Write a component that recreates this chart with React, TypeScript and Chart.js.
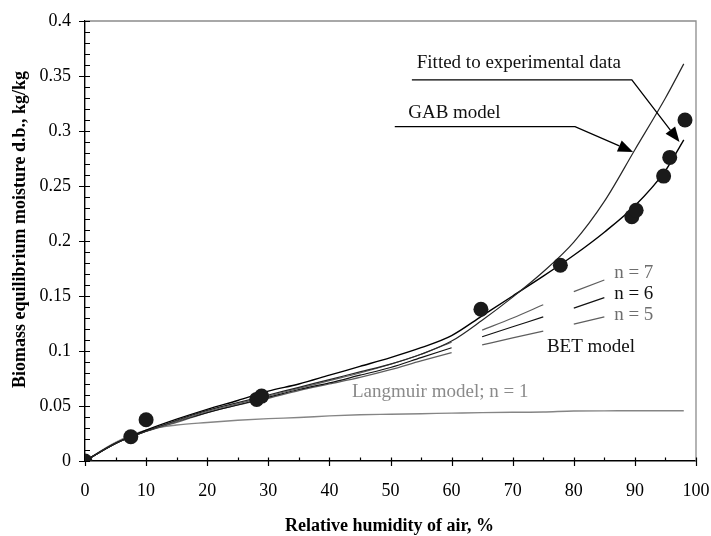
import { useEffect, useRef } from 'react';
import { Chart, registerables } from 'chart.js';

Chart.register(...registerables);

const SERIF = '"Liberation Serif", "Times New Roman", Times, serif';

// Measured equilibrium points: relative humidity (%) and moisture (kg/kg d.b.)
const expRH = [0, 7.5, 10, 28.1, 28.9, 64.8, 77.8, 89.5, 90.2, 94.7, 95.7, 98.2];
const expMoisture = [0, 0.022, 0.0375, 0.056, 0.059, 0.138, 0.178, 0.222, 0.228, 0.259, 0.276, 0.31];

// Model curves sampled on a common humidity grid
const curveRH = [0, 5, 10, 15, 20, 25, 30, 35, 40, 45, 50, 55, 60, 65, 70, 75, 80, 85, 90, 95, 98];
const fittedMoisture = [0, 0.016, 0.027, 0.037, 0.046, 0.053, 0.06, 0.067, 0.074, 0.081, 0.088, 0.097, 0.109, 0.128, 0.149, 0.172, 0.199, 0.236, 0.283, 0.33, 0.361];
const gabMoisture = [0, 0.016, 0.028, 0.038, 0.047, 0.055, 0.0635, 0.07, 0.078, 0.086, 0.094, 0.103, 0.114, 0.132, 0.15, 0.168, 0.187, 0.208, 0.232, 0.264, 0.292];
const langmuirMoisture = [0, 0.017, 0.028, 0.0327, 0.035, 0.037, 0.0385, 0.0395, 0.041, 0.042, 0.0425, 0.043, 0.0435, 0.044, 0.0443, 0.0445, 0.0455, 0.0456, 0.0457, 0.0457, 0.0457];

// BET curves are drawn as broken lines (null entries open the gaps)
const betRH = [0, 5, 10, 15, 20, 25, 30, 35, 40, 45, 50, 55, 60, 62.5, 65, 70, 75, 77.5, 80, 85];
const bet7Moisture = [0, 0.016, 0.027, 0.036, 0.045, 0.052, 0.059, 0.066, 0.073, 0.08, 0.088, 0.097, 0.108, null, 0.119, 0.13, 0.142, null, 0.154, 0.1645];
const bet6Moisture = [0, 0.016, 0.027, 0.036, 0.044, 0.051, 0.058, 0.065, 0.071, 0.078, 0.085, 0.094, 0.103, null, 0.113, 0.122, 0.131, null, 0.139, 0.1485];
const bet5Moisture = [0, 0.016, 0.027, 0.035, 0.044, 0.051, 0.057, 0.064, 0.07, 0.076, 0.083, 0.091, 0.0985, null, 0.1055, 0.112, 0.118, null, 0.1245, 0.131];

// Axis ticks
const xMajorTicks = [0, 10, 20, 30, 40, 50, 60, 70, 80, 90, 100];
const xMinorTicks = [5, 15, 25, 35, 45, 55, 65, 75, 85, 95];
const yMajorTicks = [0, 0.05, 0.1, 0.15, 0.2, 0.25, 0.3, 0.35, 0.4];
const yMinorTicks = [0.01, 0.02, 0.03, 0.04, 0.06, 0.07, 0.08, 0.09, 0.11, 0.12, 0.13, 0.14, 0.16, 0.17, 0.18, 0.19, 0.21, 0.22, 0.23, 0.24, 0.26, 0.27, 0.28, 0.29, 0.31, 0.32, 0.33, 0.34, 0.36, 0.37, 0.38, 0.39];

// Text labels placed in data units (left edge, baseline)
const labelTexts = ['Fitted to experimental data', 'GAB model', 'n = 7', 'n = 6', 'n = 5', 'BET model', 'Langmuir model; n = 1'];
const labelX = [54.3, 52.9, 86.6, 86.6, 86.6, 75.6, 43.7];
const labelY = [0.357, 0.3115, 0.1668, 0.147, 0.1279, 0.0991, 0.0585];
const labelColors = ['#111', '#111', '#6e6e6e', '#111', '#6e6e6e', '#111', '#8a8a8a'];

// Leader lines ending in arrowheads (data units)
const fittedLeaderX = [53.5, 89.5, 97.3];
const fittedLeaderY = [0.3464, 0.3464, 0.29];
const gabLeaderX = [50.7, 80.2, 89.7];
const gabLeaderY = [0.304, 0.304, 0.281];

const pairs = (xs: number[], ys: (number | null)[]) => xs.map((x, i) => ({ x, y: ys[i] }));

const X_TITLE = 'Relative humidity of air, %';
const Y_TITLE = 'Biomass equilibrium moisture d.b., kg/kg';

const decorPlugin = {
  id: 'decor',
  beforeDatasetsDraw(chart: any) {
    const { ctx, chartArea, scales } = chart;
    const xs = scales.x;
    const ys = scales.y;
    ctx.save();
    // frame on top and right
    ctx.strokeStyle = '#8c8c8c';
    ctx.lineWidth = 1.3;
    ctx.beginPath();
    ctx.moveTo(chartArea.left, chartArea.top);
    ctx.lineTo(chartArea.right, chartArea.top);
    ctx.lineTo(chartArea.right, chartArea.bottom);
    ctx.stroke();

    // tick marks
    ctx.strokeStyle = '#000';
    ctx.lineWidth = 1.2;
    ctx.beginPath();
    const bottom = chartArea.bottom;
    const left = chartArea.left;
    xMajorTicks.forEach((v) => {
      const p = Math.round(xs.getPixelForValue(v)) + 0.5;
      ctx.moveTo(p, bottom - 3.5);
      ctx.lineTo(p, bottom + 5);
    });
    xMinorTicks.forEach((v) => {
      const p = Math.round(xs.getPixelForValue(v)) + 0.5;
      ctx.moveTo(p, bottom - 3.5);
      ctx.lineTo(p, bottom);
    });
    yMajorTicks.forEach((v) => {
      const p = Math.round(ys.getPixelForValue(v)) + 0.5;
      ctx.moveTo(left - 6, p);
      ctx.lineTo(left + 5, p);
    });
    yMinorTicks.forEach((v) => {
      const p = Math.round(ys.getPixelForValue(v)) + 0.5;
      ctx.moveTo(left, p);
      ctx.lineTo(left + 5, p);
    });
    ctx.stroke();
    ctx.restore();
  },
  afterDatasetsDraw(chart: any) {
    const { ctx, chartArea, scales } = chart;
    const xs = scales.x;
    const ys = scales.y;
    ctx.save();

    // annotation texts
    ctx.font = `19px ${SERIF}`;
    ctx.textAlign = 'left';
    ctx.textBaseline = 'alphabetic';
    labelTexts.forEach((t, i) => {
      ctx.fillStyle = labelColors[i];
      ctx.fillText(t, xs.getPixelForValue(labelX[i]), ys.getPixelForValue(labelY[i]));
    });

    // leader lines with arrowheads
    const leader = (lx: number[], ly: number[]) => {
      const pts = lx.map((x, i) => [xs.getPixelForValue(x), ys.getPixelForValue(ly[i])]);
      const n = pts.length;
      const [tx, ty] = pts[n - 1];
      const [px, py] = pts[n - 2];
      const len = Math.hypot(tx - px, ty - py);
      const ux = (tx - px) / len;
      const uy = (ty - py) / len;
      const head = 15;
      const half = 6;
      const bx = tx - ux * head;
      const by = ty - uy * head;
      ctx.strokeStyle = '#000';
      ctx.lineWidth = 1.3;
      ctx.beginPath();
      ctx.moveTo(pts[0][0], pts[0][1]);
      for (let i = 1; i < n - 1; i++) ctx.lineTo(pts[i][0], pts[i][1]);
      ctx.lineTo(bx, by);
      ctx.stroke();
      ctx.fillStyle = '#000';
      ctx.beginPath();
      ctx.moveTo(tx, ty);
      ctx.lineTo(bx - uy * half, by + ux * half);
      ctx.lineTo(bx + uy * half, by - ux * half);
      ctx.closePath();
      ctx.fill();
    };
    leader(fittedLeaderX, fittedLeaderY);
    leader(gabLeaderX, gabLeaderY);

    // axis titles
    ctx.fillStyle = '#000';
    ctx.font = `bold 18px ${SERIF}`;
    ctx.textAlign = 'center';
    ctx.textBaseline = 'alphabetic';
    ctx.fillText(X_TITLE, (chartArea.left + chartArea.right) / 2 - 1, chartArea.bottom + 70);
    ctx.translate(25, (chartArea.top + chartArea.bottom) / 2 - 11.5);
    ctx.rotate(-Math.PI / 2);
    ctx.fillText(Y_TITLE, 0, 0);
    ctx.restore();
  },
};

export default function App() {
  const canvasRef = useRef<HTMLCanvasElement | null>(null);

  useEffect(() => {
    const canvas = canvasRef.current;
    if (!canvas) return;
    const tickFont = { family: SERIF, size: 18 };
    const chart = new Chart(canvas, {
      type: 'scatter',
      data: {
        datasets: [
          {
            label: 'Experimental',
            data: pairs(expRH, expMoisture),
            showLine: false,
            pointRadius: 7.5,
            pointBackgroundColor: '#1a1a1a',
            pointBorderWidth: 0,
            pointBorderColor: '#1a1a1a',
          },
          {
            label: 'Fitted to experimental data',
            data: pairs(curveRH, fittedMoisture),
            showLine: true,
            borderColor: '#262626',
            borderWidth: 1.2,
            pointRadius: 0,
            cubicInterpolationMode: 'monotone',
          },
          {
            label: 'GAB model',
            data: pairs(curveRH, gabMoisture),
            showLine: true,
            borderColor: '#000',
            borderWidth: 1.4,
            pointRadius: 0,
            cubicInterpolationMode: 'monotone',
          },
          {
            label: 'BET n = 7',
            data: pairs(betRH, bet7Moisture),
            showLine: true,
            spanGaps: false,
            borderColor: '#5e5e5e',
            borderWidth: 1.2,
            pointRadius: 0,
            cubicInterpolationMode: 'monotone',
          },
          {
            label: 'BET n = 6',
            data: pairs(betRH, bet6Moisture),
            showLine: true,
            spanGaps: false,
            borderColor: '#111',
            borderWidth: 1.2,
            pointRadius: 0,
            cubicInterpolationMode: 'monotone',
          },
          {
            label: 'BET n = 5',
            data: pairs(betRH, bet5Moisture),
            showLine: true,
            spanGaps: false,
            borderColor: '#5e5e5e',
            borderWidth: 1.2,
            pointRadius: 0,
            cubicInterpolationMode: 'monotone',
          },
          {
            label: 'Langmuir model; n = 1',
            data: pairs(curveRH, langmuirMoisture),
            showLine: true,
            borderColor: '#858585',
            borderWidth: 1.4,
            pointRadius: 0,
            cubicInterpolationMode: 'monotone',
          },
        ],
      },
      options: {
        responsive: false,
        animation: false,
        layout: { padding: { top: 21, right: 15, left: 0, bottom: 0 } },
        plugins: {
          legend: { display: false },
          tooltip: { enabled: false },
          title: { display: false },
        },
        scales: {
          x: {
            type: 'linear',
            min: 0,
            max: 100,
            ticks: {
              stepSize: 10,
              font: tickFont,
              color: '#000',
              padding: 19,
              maxRotation: 0,
              callback: (v: any) => String(v),
            },
            grid: { display: false, drawTicks: false },
            border: { display: true, color: '#000', width: 1.4 },
            afterFit: (s: any) => {
              s.height = 75;
              s.paddingLeft = 0;
              s.paddingRight = 0;
            },
          },
          y: {
            type: 'linear',
            min: 0,
            max: 0.4,
            ticks: {
              stepSize: 0.05,
              font: tickFont,
              color: '#000',
              padding: 14,
              callback: (v: any) => String(+Number(v).toFixed(2)),
            },
            grid: { display: false, drawTicks: false },
            border: { display: true, color: '#000', width: 1.4 },
            afterFit: (s: any) => {
              s.width = 85;
              s.paddingTop = 0;
              s.paddingBottom = 0;
            },
          },
        },
      },
      plugins: [decorPlugin],
    });
    return () => chart.destroy();
  }, []);

  return (
    <div style={{ position: 'absolute', left: 0, top: 0, width: 711, height: 536, background: '#fff' }}>
      <canvas ref={canvasRef} width={711} height={536} style={{ display: 'block' }} />
    </div>
  );
}
